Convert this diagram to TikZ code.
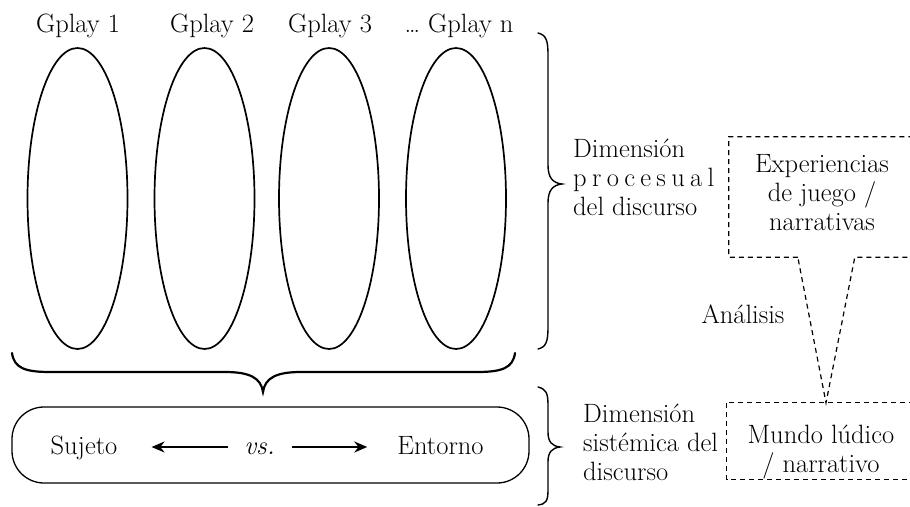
\documentclass[tikz,border=0pt]{standalone}
\usepackage{calc}
\usetikzlibrary{shapes.geometric,arrows.meta,calc}
\begin{document}
\begin{tikzpicture}[x=1pt,y=-1pt,
  txt/.style={inner sep=0pt, font=\fontsize{26.5}{29.3}\selectfont},
  mid/.style={text height=18pt, text depth=4pt},
  oval/.style={draw, ellipse, line width=1.7pt, minimum width=100pt, minimum height=301pt, inner sep=0pt},
  brace/.style={line width=1.4pt, line cap=round},
  dbox/.style={inner sep=0pt},
  dline/.style={line width=1.2pt, dash pattern=on 5pt off 4pt},
  arr/.style={line width=1.8pt, -{Stealth[length=13pt,width=11pt]}},
]
\useasboundingbox (0,0) rectangle (910,506);
\clip (0,0) rectangle (910,506);

% titles
\node[txt, anchor=base] (gp1) at (78,32) {Gplay 1};
\node[txt, anchor=base] (gp2) at (212,32) {Gplay 2};
\node[txt, anchor=base] (gp3) at (330,32) {Gplay 3};
\node[txt, anchor=base] (gpn) at (459,32) {… Gplay n};

% ovals
\node[oval] (g1) at (77.5,198.5) {};
\node[oval] (g2) at (204.5,198.5) {};
\node[oval] (g3) at (329,198.5) {};
\node[oval] (g4) at (456,198.5) {};

% bottom brace
\draw[brace, line width=2.2pt] (12,353) .. controls (14,368) and (25,372) .. (50,372) -- (225,372)
  .. controls (250,372) and (261,378) .. (263,392)
  .. controls (265,378) and (276,372) .. (301,372) -- (477,372)
  .. controls (502,372) and (513,368) .. (515,353);

% upper right brace
\draw[brace] (538,33) .. controls (546,35) and (548,40) .. (548,55) -- (548,165)
  .. controls (548,178) and (553,183) .. (562,184)
  .. controls (553,185) and (548,190) .. (548,203) -- (548,327)
  .. controls (548,342) and (546,347) .. (538,349);

% lower right brace
\draw[brace] (538,387) .. controls (546,389) and (548,393) .. (548,405) -- (548,432)
  .. controls (548,442) and (552,446) .. (560,447)
  .. controls (552,448) and (548,452) .. (548,462) -- (548,490)
  .. controls (548,501) and (546,504) .. (538,505);

% frame
\node[draw, rounded corners=32pt, line width=1.3pt, minimum width=517pt, minimum height=76pt, inner sep=0pt] (frame) at (270.5,445) {};
\node[txt, mid, anchor=base] (suj) at (84,454) {Sujeto};
\node[txt, mid, anchor=base] (vs) at (259.5,454) {\itshape vs.};
\node[txt, mid, anchor=base] (ent) at (440.5,454) {Entorno};
\draw[arr, shorten <=16pt, shorten >=34pt] (vs.west) -- (suj.east);
\draw[arr, shorten <=17pt, shorten >=30pt] (vs.east) -- (ent.west);

% dimension texts
\node[txt, anchor=base west] (dimproc) at (573,157) {\begin{tabular}[t]{@{}l@{}}Dimensión\\\makebox[\widthof{del discurso}][s]{p r o c e s u a l}\\del discurso\end{tabular}};
\node[txt, anchor=base west] (dimsis) at (583,422) {\begin{tabular}[t]{@{}l@{}}Dimensión\\sistémica del\\discurso\end{tabular}};

% callout boxes
\node[dbox, minimum width=186pt, minimum height=120pt] (expbox) at (822,197) {};
\node[dbox, minimum width=188pt, minimum height=76pt] (mundo) at (821,441) {};
\coordinate (tip) at ($(mundo.north)+(5,0)$);
\coordinate (gapL) at ($(expbox.south west)+(69,0)$);
\coordinate (gapR) at ($(expbox.south west)+(126,0)$);
\draw[dline] (gapL) -- (expbox.south west) -- (expbox.north west) -- (expbox.north east) -- (expbox.south east) -- (gapR) -- (tip) -- cycle;
\draw[dline] (mundo.north west) rectangle (mundo.south east);

\node[txt, anchor=base] (exptext) at (822,172) {\begin{tabular}[t]{@{}c@{}}Experiencias\\de juego /\\narrativas\end{tabular}};
\node[txt, anchor=base] (mundotext) at (821,443) {\begin{tabular}[t]{@{}c@{}}Mundo lúdico\\/ narrativo\end{tabular}};
\node[txt, anchor=base] (anal) at (743,323) {Análisis};
\end{tikzpicture}
\end{document}
